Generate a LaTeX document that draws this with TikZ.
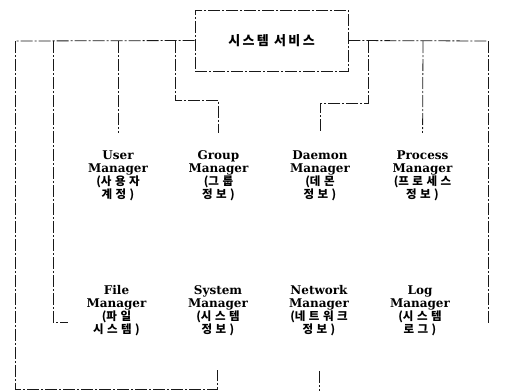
\documentclass[tikz,border=0pt]{standalone}
\usepackage{fontspec}
\setmainfont{DejaVu Serif}
\newfontfamily\kr[LetterSpace=30]{Noto Sans CJK KR}
\newfontfamily\krn{Noto Sans CJK KR}
\newfontfamily\krtitle[LetterSpace=18]{Noto Sans CJK KR}
\newcommand{\ko}[1]{{\kr\bfseries\fontsize{11.5}{12.8}\selectfont #1}}
\newcommand{\op}{{\krn(}}
\begin{document}
\begin{tikzpicture}[x=1pt,y=-1pt,
  wire/.style={draw=black!90, line width=0.8pt, dash pattern=on 12pt off 2pt on 2pt off 2pt},
  mgr/.style={align=center, inner sep=0pt, font=\fontsize{12}{12.9}\selectfont\bfseries},
  svcbox/.style={wire, minimum width=153pt, minimum height=61pt, inner sep=0pt,
    font=\krtitle\bfseries\fontsize{13}{15}\selectfont}
]
\useasboundingbox[fill=white] (0,0) rectangle (520,391);

% central node
\node[svcbox] (svc) at (271.5,40.5) {시스템 서비스};

% managers, row 1
\node[mgr] (user)    at (118,176) {User\\Manager\\\ko{\op 사용자}\\\ko{계정)}};
\node[mgr] (group)   at (218.5,176) {Group\\Manager\\\ko{\op 그룹}\\\ko{정보)}};
\node[mgr] (daemon)  at (320,176) {Daemon\\Manager\\\ko{\op 데몬}\\\ko{정보)}};
\node[mgr] (process) at (422.5,176) {Process\\Manager\\\ko{\op 프로세스}\\\ko{정보)}};

% managers, row 2
\node[mgr] (file)    at (116.5,310.5) {File\\Manager\\\ko{\op 파일}\\\ko{시스템)}};
\node[mgr] (system)  at (218,310.5) {System\\Manager\\\ko{\op 시스템}\\\ko{정보)}};
\node[mgr] (network) at (319,310.5) {Network\\Manager\\\ko{\op 네트워크}\\\ko{정보)}};
\node[mgr] (log)     at (420,310.5) {Log\\Manager\\\ko{\op 시스템}\\\ko{로그)}};

% junctions on the bus
\coordinate (j1) at (15,41);
\coordinate (j2) at (53,41);
\coordinate (j3) at (118,41);
\coordinate (j4) at (175,41);
\coordinate (j5) at (368,41);
\coordinate (j6) at (423,41);
\coordinate (j7) at (488,41);
\coordinate (c1) at (15,389);
\coordinate (b4) at (175,100);
\coordinate (b5) at (368,103);
\coordinate (fileport) at (68,322);
\coordinate (logport) at (488,323);
\coordinate (netend) at (319,391);

% bus
\draw[wire] (svc.west) -- (j1);
\draw[wire] (svc.east) -- (j7);

% drops
\draw[wire, shorten >=34pt] (j1) -- (c1) -| ([xshift=-1pt]system.south);
\draw[wire] (j2) |- (fileport);
\draw[wire, shorten >=18pt] (j3) -- (user.north);
\draw[wire, shorten >=18pt] (j4) -- (b4) -| (group.north);
\draw[wire, shorten >=18pt] (j5) -- (b5) -| (daemon.north);
\draw[wire, shorten >=18pt] (j6) -- (process.north);
\draw[wire] (j7) -- (logport);
\draw[wire, shorten <=35pt] (network.south) -- (netend);
\end{tikzpicture}
\end{document}
